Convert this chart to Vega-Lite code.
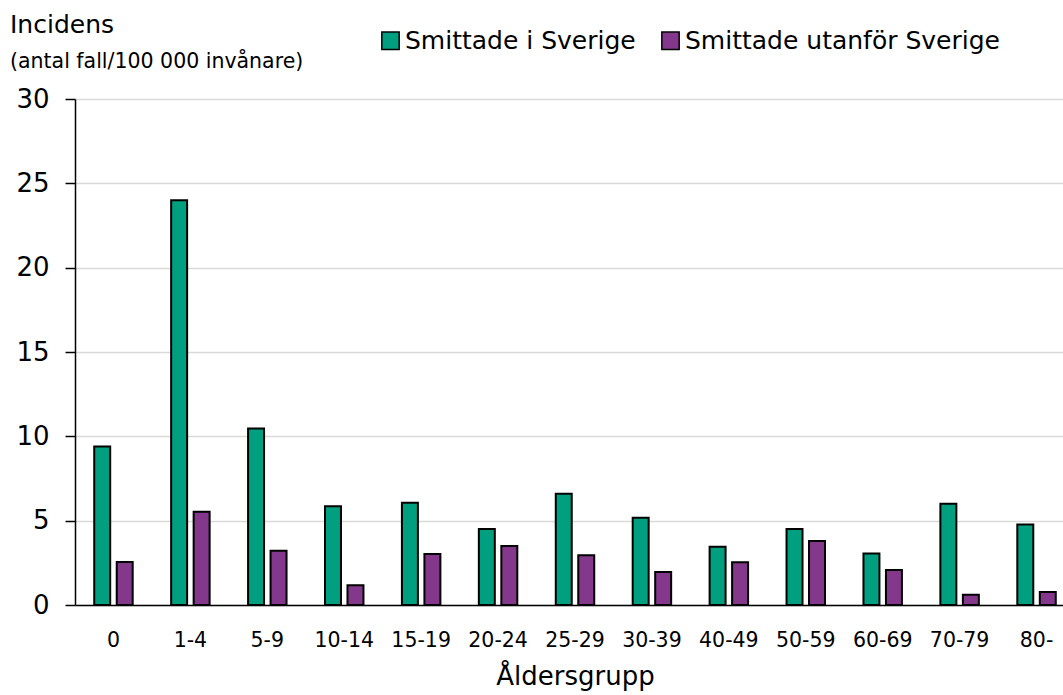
{
  "$schema": "https://vega.github.io/schema/vega-lite/v6.json",
  "autosize": {"type": "none"},
  "padding": {"left": 75, "top": 99, "right": 0, "bottom": 90},
  "width": 988,
  "height": 506,
  "background": "white",
  "title": {
    "text": "Incidens",
    "subtitle": "(antal fall/100 000 invånare)",
    "anchor": "start",
    "frame": "group",
    "dx": -65,
    "dy": 70,
    "offset": 26,
    "font": "DejaVu Sans",
    "fontSize": 25,
    "fontWeight": "normal",
    "color": "black",
    "subtitleFont": "DejaVu Sans",
    "subtitleFontSize": 20.5,
    "subtitleColor": "black",
    "subtitlePadding": 14
  },
  "data": {
    "values": [
      {"age": "0", "group": "Smittade i Sverige", "value": 9.4},
      {"age": "0", "group": "Smittade utanför Sverige", "value": 2.55},
      {"age": "1-4", "group": "Smittade i Sverige", "value": 24.0},
      {"age": "1-4", "group": "Smittade utanför Sverige", "value": 5.53},
      {"age": "5-9", "group": "Smittade i Sverige", "value": 10.47},
      {"age": "5-9", "group": "Smittade utanför Sverige", "value": 3.22},
      {"age": "10-14", "group": "Smittade i Sverige", "value": 5.85},
      {"age": "10-14", "group": "Smittade utanför Sverige", "value": 1.17},
      {"age": "15-19", "group": "Smittade i Sverige", "value": 6.06},
      {"age": "15-19", "group": "Smittade utanför Sverige", "value": 3.03},
      {"age": "20-24", "group": "Smittade i Sverige", "value": 4.5},
      {"age": "20-24", "group": "Smittade utanför Sverige", "value": 3.5},
      {"age": "25-29", "group": "Smittade i Sverige", "value": 6.59},
      {"age": "25-29", "group": "Smittade utanför Sverige", "value": 2.95},
      {"age": "30-39", "group": "Smittade i Sverige", "value": 5.17},
      {"age": "30-39", "group": "Smittade utanför Sverige", "value": 1.95},
      {"age": "40-49", "group": "Smittade i Sverige", "value": 3.46},
      {"age": "40-49", "group": "Smittade utanför Sverige", "value": 2.54},
      {"age": "50-59", "group": "Smittade i Sverige", "value": 4.5},
      {"age": "50-59", "group": "Smittade utanför Sverige", "value": 3.8},
      {"age": "60-69", "group": "Smittade i Sverige", "value": 3.05},
      {"age": "60-69", "group": "Smittade utanför Sverige", "value": 2.07},
      {"age": "70-79", "group": "Smittade i Sverige", "value": 6.0},
      {"age": "70-79", "group": "Smittade utanför Sverige", "value": 0.61},
      {"age": "80-", "group": "Smittade i Sverige", "value": 4.78},
      {"age": "80-", "group": "Smittade utanför Sverige", "value": 0.77}
    ]
  },
  "mark": {"type": "bar", "stroke": "black", "strokeWidth": 2, "clip": false},
  "encoding": {
    "x": {
      "field": "age",
      "type": "nominal",
      "sort": null,
      "scale": {"range": [0, 1000], "paddingInner": 0.5, "paddingOuter": 0.25},
      "axis": {
        "title": "Åldersgrupp",
        "titleFont": "DejaVu Sans",
        "titleFontSize": 26,
        "titleFontWeight": "normal",
        "titleColor": "black",
        "titlePadding": 13,
        "labelFont": "DejaVu Sans",
        "labelFontSize": 20.5,
        "labelColor": "black",
        "labelAngle": 0,
        "labelPadding": 25,
        "ticks": false,
        "domainColor": "black",
        "domainWidth": 1.5,
        "grid": false
      }
    },
    "xOffset": {
      "field": "group",
      "type": "nominal",
      "sort": ["Smittade i Sverige", "Smittade utanför Sverige"],
      "scale": {"paddingInner": 0.29, "paddingOuter": 0}
    },
    "y": {
      "field": "value",
      "type": "quantitative",
      "scale": {"domain": [0, 30]},
      "axis": {
        "title": null,
        "values": [0, 5, 10, 15, 20, 25, 30],
        "labelFont": "DejaVu Sans",
        "labelFontSize": 26,
        "labelColor": "black",
        "labelPadding": 16,
        "tickSize": 10,
        "tickColor": "black",
        "tickWidth": 1.5,
        "domainColor": "black",
        "domainWidth": 1.5,
        "gridColor": "#d9d9d9",
        "gridWidth": 1.5
      }
    },
    "color": {
      "field": "group",
      "type": "nominal",
      "scale": {"domain": ["Smittade i Sverige", "Smittade utanför Sverige"], "range": ["#009F7F", "#84388B"]},
      "legend": {
        "title": null,
        "orient": "none",
        "direction": "horizontal",
        "legendX": 303,
        "legendY": -71,
        "padding": 0,
        "symbolType": "square",
        "symbolSize": 300,
        "symbolStrokeColor": "black",
        "symbolStrokeWidth": 1.5,
        "symbolOpacity": 1,
        "labelFont": "DejaVu Sans",
        "labelFontSize": 25,
        "labelColor": "black",
        "labelOffset": 2,
        "labelLimit": 500,
        "columnPadding": 22
      }
    }
  },
  "config": {
    "view": {"stroke": null}
  }
}
